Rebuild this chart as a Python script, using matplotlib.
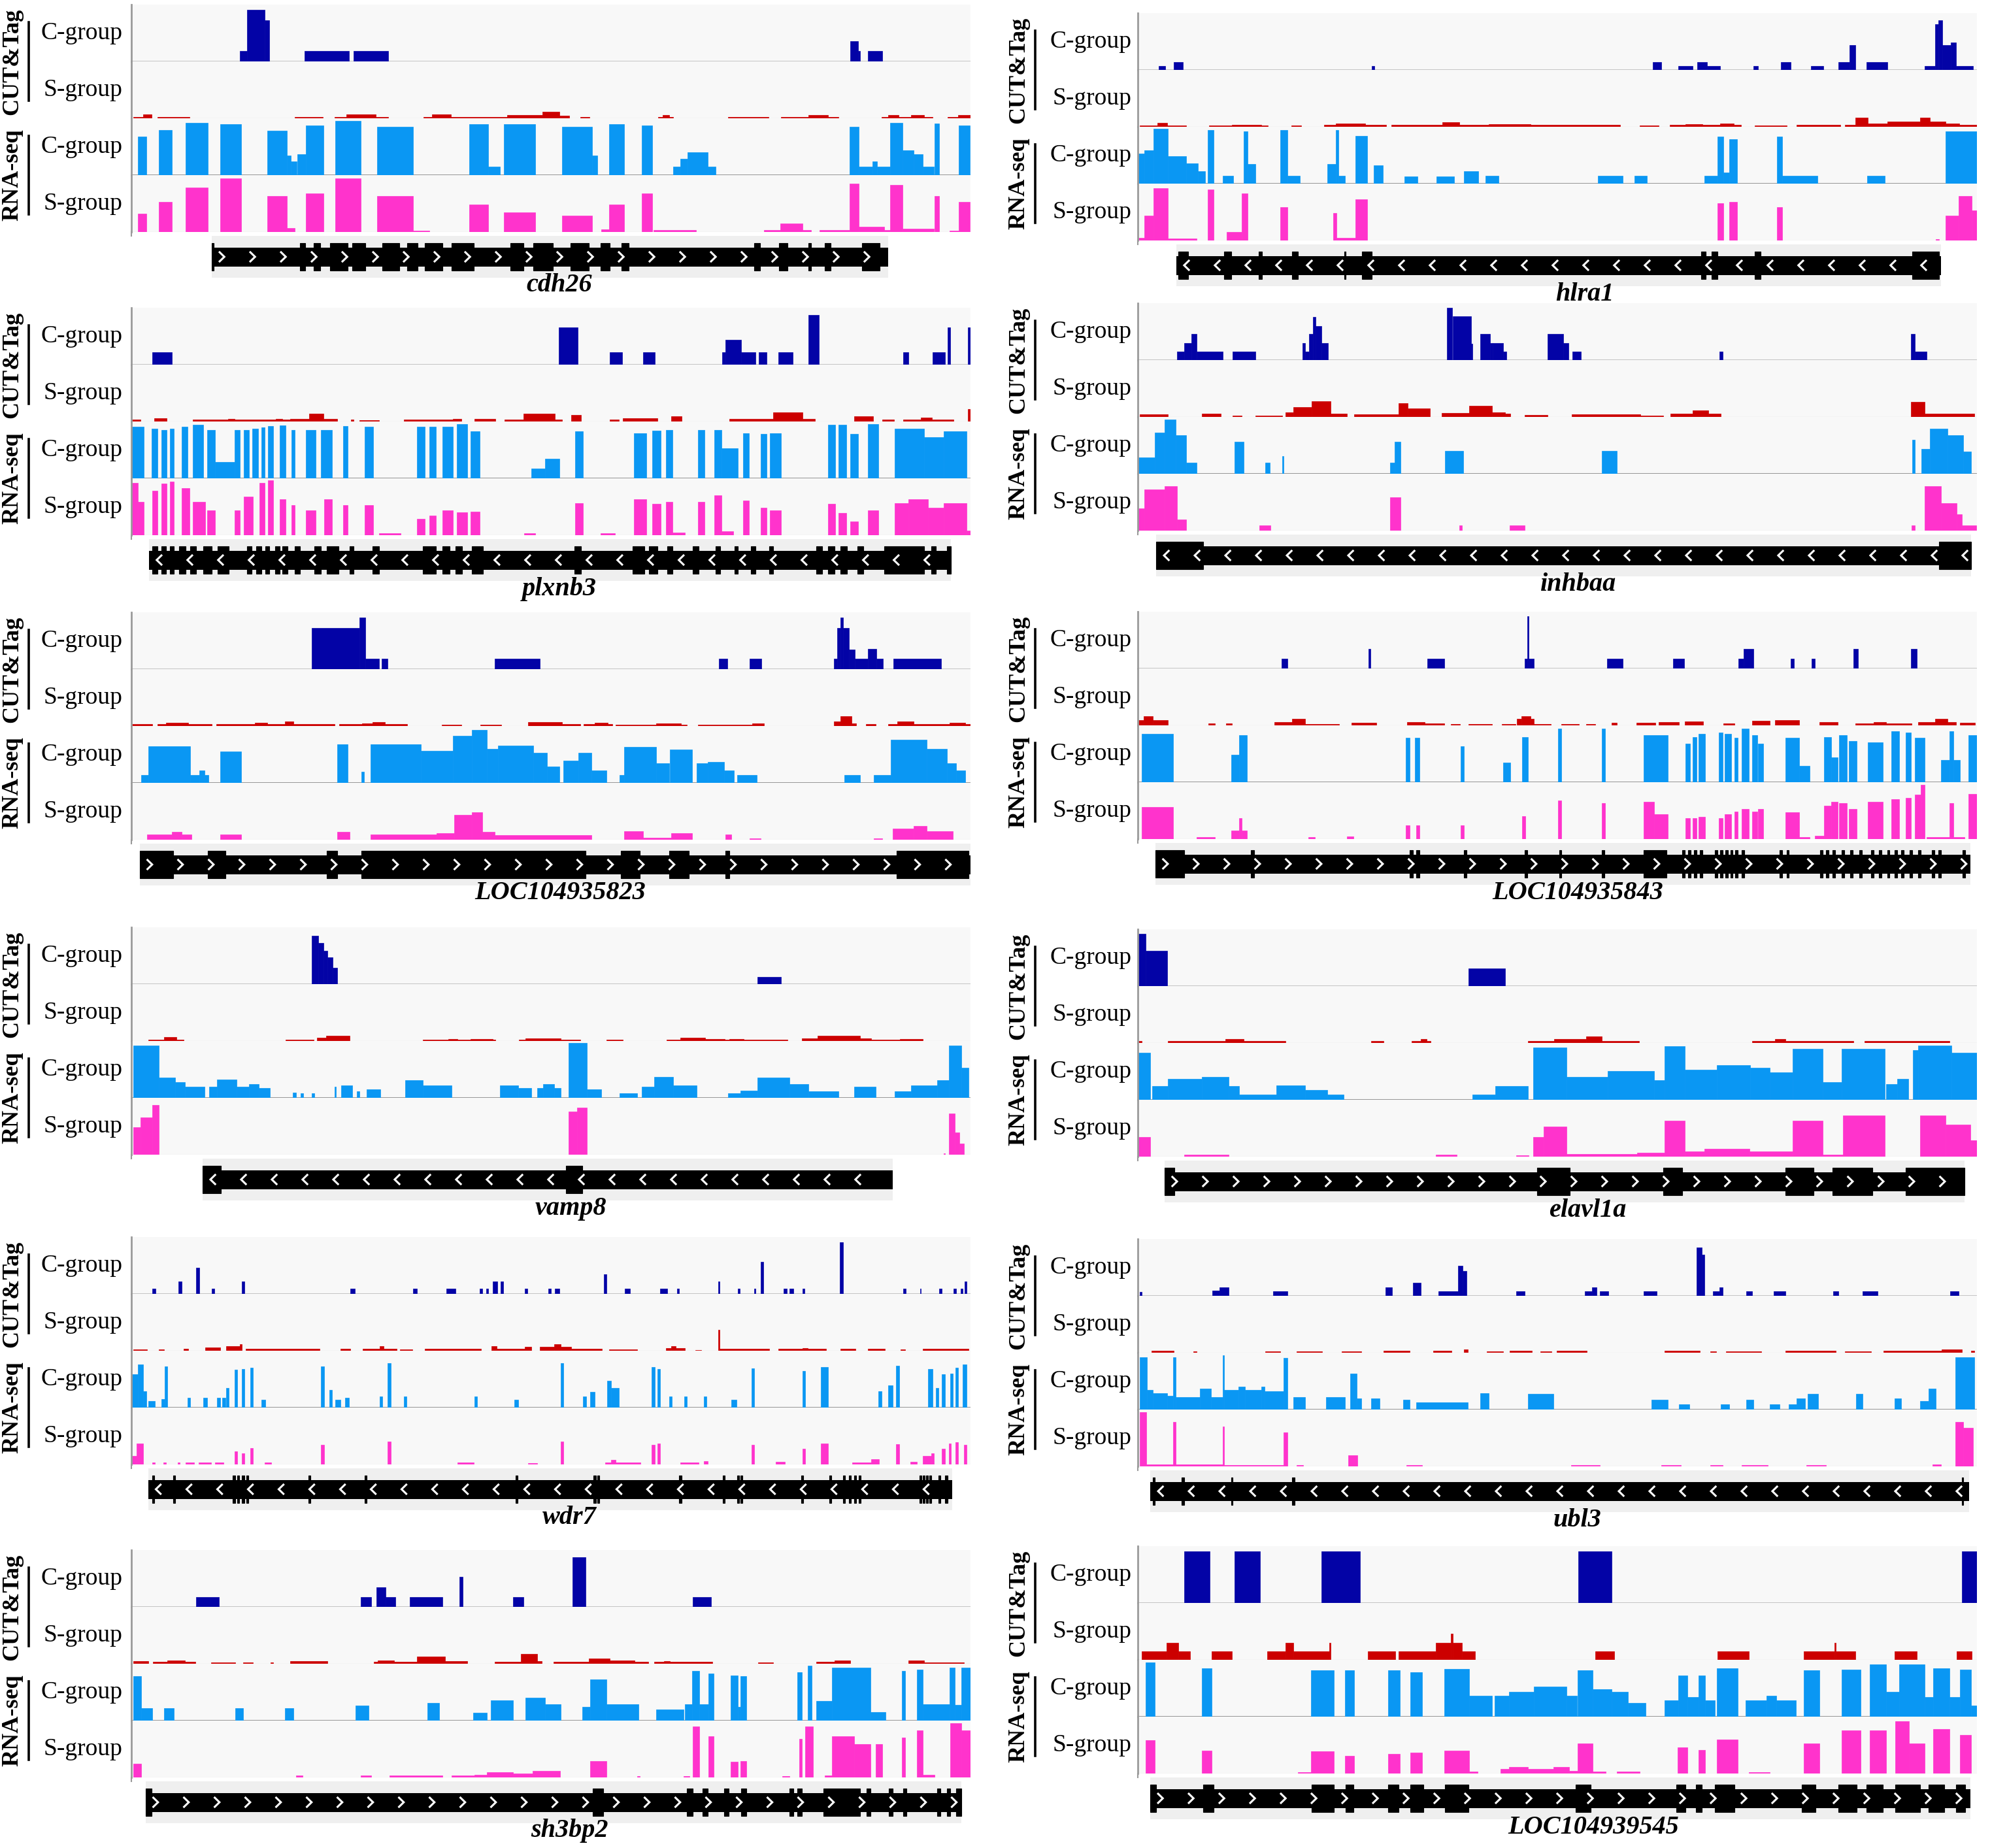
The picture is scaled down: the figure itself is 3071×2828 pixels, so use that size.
import matplotlib.pyplot as plt
import numpy as np
from matplotlib.lines import Line2D

# ---------------- data: (start %, end %, relative height) ----------------
# cdh26
cdh26_cut_c = [(12.9, 13.8, 0.19), (13.8, 15.9, 0.94), (15.9, 16.4, 0.75), (20.6, 25.9, 0.19), (26.5, 30.6, 0.19),
               (85.7, 86.6, 0.37), (86.6, 86.8, 0.19), (87.8, 89.5, 0.19)]
cdh26_cut_s = [(0.2, 1.4, 0.02), (1.4, 2.4, 0.07), (3.1, 6.9, 0.02), (19.5, 22.8, 0.02), (24.2, 25.6, 0.02),
               (25.6, 29.1, 0.07), (29.1, 30.6, 0.02), (34.8, 35.8, 0.02), (35.8, 38.1, 0.07), (38.1, 44.8, 0.02),
               (44.8, 49.0, 0.06), (49.0, 51.0, 0.12), (51.0, 52.2, 0.05), (53.5, 54.6, 0.02), (62.8, 63.3, 0.02),
               (63.3, 64.1, 0.06), (64.1, 64.6, 0.02), (71.1, 75.9, 0.02), (77.4, 80.7, 0.02), (80.7, 83.0, 0.06),
               (83.0, 84.3, 0.02), (89.4, 90.2, 0.02), (90.2, 91.4, 0.06), (91.4, 92.9, 0.02), (92.9, 94.5, 0.06),
               (94.5, 95.5, 0.02), (97.3, 98.5, 0.02), (98.5, 100, 0.06)]
cdh26_rna_c = [(0.8, 1.8, 0.70), (3.3, 4.8, 0.82), (6.5, 9.1, 0.95), (10.6, 13.1, 0.92), (16.2, 18.5, 0.80),
               (18.5, 19.0, 0.35), (19.0, 19.7, 0.25), (19.8, 20.8, 0.38), (20.8, 22.9, 0.90), (24.3, 27.3, 0.98),
               (29.3, 33.6, 0.88), (40.3, 42.5, 0.92), (42.5, 43.9, 0.15), (44.4, 48.1, 0.92), (51.3, 54.9, 0.88),
               (54.9, 55.5, 0.35), (56.9, 58.7, 0.92), (60.8, 62.1, 0.90), (64.6, 65.4, 0.15), (65.4, 66.3, 0.30),
               (66.3, 68.7, 0.42), (68.7, 69.6, 0.15), (85.6, 86.7, 0.88), (86.7, 88.3, 0.15), (88.3, 88.9, 0.25),
               (88.9, 90.4, 0.15), (90.4, 91.9, 0.95), (91.9, 93.2, 0.45), (93.2, 94.3, 0.38), (94.3, 95.6, 0.15),
               (95.7, 96.3, 0.93), (98.6, 99.9, 0.90)]
cdh26_rna_s = [(0.8, 1.8, 0.33), (3.3, 4.8, 0.55), (6.5, 9.1, 0.80), (10.6, 13.1, 0.97), (16.2, 18.5, 0.65),
               (18.5, 19.5, 0.07), (20.8, 22.9, 0.70), (24.3, 27.3, 0.97), (29.3, 33.6, 0.65), (33.6, 35.5, 0.02),
               (40.3, 42.5, 0.50), (44.4, 48.1, 0.35), (51.3, 54.9, 0.30), (56.0, 56.9, 0.05), (56.9, 58.7, 0.50),
               (60.8, 62.1, 0.70), (62.2, 67.3, 0.03), (75.4, 77.3, 0.03), (77.3, 80.0, 0.15), (80.0, 81.0, 0.03),
               (82.0, 85.6, 0.03), (85.6, 86.7, 0.88), (86.7, 89.7, 0.10), (89.7, 90.4, 0.03), (90.4, 91.9, 0.85),
               (91.9, 95.6, 0.06), (95.7, 96.3, 0.65), (97.5, 98.6, 0.02), (98.6, 99.9, 0.55)]
cdh26_exons = [(9.6, 9.8), (20.1, 20.7), (21.7, 22.5), (23.7, 25.8), (26.3, 27.9), (29.9, 31.9), (32.9, 34.1),
               (35.0, 37.1), (38.2, 40.8), (45.2, 46.7), (47.9, 50.2), (52.3, 54.5), (55.9, 57.0), (58.4, 59.3),
               (74.2, 74.9), (77.2, 78.2), (80.7, 81.0), (82.6, 83.3), (87.1, 89.2)]

# hlra1
hlra1_cut_c = [(2.5, 3.3, 0.07), (4.3, 5.4, 0.14), (27.9, 28.2, 0.07), (61.4, 62.4, 0.14), (64.4, 66.1, 0.07),
               (66.7, 67.8, 0.14), (67.8, 69.4, 0.07), (73.4, 73.9, 0.07), (76.6, 77.8, 0.14), (80.2, 81.7, 0.07),
               (83.5, 84.8, 0.14), (84.8, 85.5, 0.45), (86.8, 89.3, 0.14), (93.8, 95.0, 0.07), (95.0, 95.4, 0.83),
               (95.4, 95.9, 0.90), (95.9, 96.9, 0.45), (96.9, 97.5, 0.50), (97.5, 99.5, 0.07)]
hlra1_cut_s = [(0.2, 2.3, 0.02), (2.3, 3.5, 0.07), (3.5, 5.8, 0.02), (8.5, 11.2, 0.02), (11.2, 14.7, 0.04),
               (14.7, 15.5, 0.02), (18.3, 19.5, 0.02), (22.2, 23.6, 0.03), (23.6, 27.1, 0.06), (27.1, 29.6, 0.03),
               (30.2, 36.3, 0.03), (36.3, 38.3, 0.08), (38.3, 41.8, 0.03), (41.8, 46.8, 0.05), (46.8, 57.5, 0.03),
               (59.8, 62.1, 0.02), (63.4, 65.3, 0.03), (65.3, 67.3, 0.05), (67.3, 69.4, 0.03), (69.4, 71.0, 0.06),
               (71.0, 71.9, 0.03), (73.5, 77.3, 0.02), (78.5, 83.7, 0.04), (84.3, 85.5, 0.04), (85.5, 87.0, 0.16),
               (87.0, 89.3, 0.06), (89.3, 93.2, 0.10), (93.2, 94.4, 0.16), (94.4, 96.3, 0.10), (96.3, 97.9, 0.06),
               (97.9, 100, 0.04)]
hlra1_rna_c = [(0.0, 0.8, 0.55), (0.8, 1.9, 0.60), (1.9, 3.6, 1.00), (3.6, 5.8, 0.50), (5.8, 7.2, 0.37),
               (7.2, 8.0, 0.22), (8.3, 9.0, 0.97), (10.1, 11.4, 0.14), (12.6, 13.1, 0.95), (13.1, 14.0, 0.35),
               (17.0, 17.8, 0.97), (17.8, 19.3, 0.14), (22.6, 23.6, 0.35), (23.6, 23.9, 0.97), (23.9, 24.7, 0.14),
               (25.9, 27.3, 0.87), (28.1, 29.2, 0.33), (31.8, 33.3, 0.13), (35.6, 37.7, 0.13), (38.9, 40.6, 0.22),
               (41.4, 43.0, 0.14), (54.8, 57.8, 0.14), (59.2, 60.7, 0.14), (67.5, 69.1, 0.14), (69.1, 69.8, 0.85),
               (69.8, 70.5, 0.20), (70.5, 71.4, 0.80), (76.2, 76.8, 0.85), (76.8, 81.0, 0.14), (86.9, 89.0, 0.14),
               (96.3, 100, 0.95)]
hlra1_rna_s = [(0.0, 0.8, 0.05), (0.8, 1.9, 0.45), (1.9, 3.6, 0.95), (3.6, 7.0, 0.04), (8.3, 9.0, 0.92),
               (10.6, 12.4, 0.15), (12.4, 13.1, 0.85), (17.0, 17.8, 0.60), (23.3, 23.7, 0.50), (23.7, 25.9, 0.05),
               (25.9, 27.3, 0.75), (69.1, 69.8, 0.68), (70.5, 71.4, 0.70), (76.2, 76.8, 0.60), (95.1, 95.5, 0.02),
               (96.3, 97.8, 0.45), (97.8, 99.4, 0.80), (99.4, 100, 0.55)]
hlra1_exons = [(4.8, 6.0), (10.3, 11.1), (14.4, 14.8), (18.4, 19.1), (24.6, 24.8), (26.7, 27.9), (67.1, 67.7),
               (68.4, 69.1), (73.5, 74.2), (92.3, 95.5)]

# plxnb3
plxnb3_cut_c = [(2.5, 4.8, 0.22), (50.9, 53.2, 0.67), (57.0, 58.5, 0.22), (61.0, 62.4, 0.22), (70.4, 70.8, 0.22),
                (70.8, 72.7, 0.45), (72.7, 74.4, 0.22), (74.8, 75.7, 0.22), (77.1, 78.8, 0.22), (80.7, 81.9, 0.90),
                (92.0, 92.6, 0.22), (95.5, 97.0, 0.22), (97.3, 97.6, 0.67), (99.7, 100, 0.67)]
plxnb3_cut_s = [(0, 1.1, 0.03), (2.7, 4.2, 0.06), (7.3, 11.5, 0.03), (11.5, 12.3, 0.05), (12.3, 17.2, 0.03),
                (17.2, 18.0, 0.05), (18.0, 18.9, 0.03), (18.9, 21.2, 0.05), (21.2, 22.9, 0.14), (22.9, 24.5, 0.05),
                (26.2, 26.5, 0.03), (27.2, 29.5, 0.02), (32.5, 38.3, 0.03), (38.3, 39.3, 0.05), (40.9, 43.4, 0.05),
                (44.5, 46.7, 0.04), (46.7, 50.5, 0.14), (50.5, 51.3, 0.04), (52.4, 53.6, 0.12), (57.0, 58.1, 0.03),
                (58.6, 62.7, 0.06), (64.3, 65.6, 0.10), (71.3, 76.5, 0.05), (76.5, 80.0, 0.17), (80.0, 81.5, 0.05),
                (86.1, 88.4, 0.10), (89.5, 90.9, 0.03), (92.0, 94.1, 0.03), (94.1, 95.4, 0.07), (95.4, 98.0, 0.03),
                (99.7, 100, 0.22)]
plxnb3_rna_c = [(0, 1.5, 0.93), (2.4, 3.1, 0.90), (3.6, 4.2, 0.88), (4.6, 5.1, 0.90), (6.0, 6.7, 0.93),
                (7.3, 8.6, 0.97), (9.0, 10.0, 0.88), (10.0, 12.3, 0.30), (12.3, 12.9, 0.88), (13.4, 14.0, 0.88),
                (14.4, 15.1, 0.90), (15.5, 15.9, 0.92), (16.3, 16.9, 0.95), (17.7, 18.4, 0.96), (19.1, 19.5, 0.88),
                (20.8, 22.0, 0.88), (22.6, 23.9, 0.88), (25.2, 25.8, 0.95), (27.8, 28.8, 0.93), (34.0, 35.0, 0.93),
                (35.5, 36.3, 0.93), (37.1, 38.3, 0.93), (38.8, 40.0, 0.98), (40.4, 41.5, 0.85), (47.7, 49.3, 0.18),
                (49.3, 51.0, 0.35), (52.9, 53.8, 0.85), (59.9, 61.4, 0.82), (62.1, 63.1, 0.87), (63.7, 64.5, 0.88),
                (67.5, 68.3, 0.88), (69.5, 70.3, 0.88), (70.3, 72.3, 0.55), (72.9, 73.6, 0.82), (75.0, 75.7, 0.80),
                (76.1, 77.4, 0.82), (83.0, 83.9, 0.97), (84.3, 85.2, 0.97), (85.7, 86.6, 0.80), (87.8, 89.0, 0.98),
                (91.0, 94.5, 0.90), (94.5, 96.8, 0.75), (96.8, 99.5, 0.85)]
plxnb3_rna_s = [(0, 0.8, 0.95), (0.8, 1.5, 0.60), (2.5, 3.1, 0.80), (3.6, 4.2, 0.94), (4.6, 5.1, 0.97),
                (6.0, 6.9, 0.85), (7.3, 8.8, 0.60), (9.0, 10.0, 0.45), (12.3, 12.9, 0.45), (13.4, 14.5, 0.70),
                (15.3, 15.9, 0.95), (16.3, 16.9, 1.00), (17.7, 18.4, 0.65), (19.1, 19.5, 0.55), (20.8, 22.0, 0.45),
                (23.0, 23.9, 0.65), (25.2, 25.8, 0.55), (27.8, 28.8, 0.55), (29.5, 32.1, 0.04), (34.0, 35.0, 0.30),
                (35.5, 36.3, 0.35), (37.1, 38.3, 0.45), (38.8, 40.0, 0.42), (40.4, 41.5, 0.43), (46.8, 48.1, 0.03),
                (52.9, 53.8, 0.58), (55.9, 57.6, 0.04), (59.9, 61.4, 0.65), (62.1, 63.1, 0.57), (63.7, 64.5, 0.60),
                (64.5, 66.0, 0.05), (67.5, 68.3, 0.60), (69.5, 70.3, 0.72), (70.3, 71.7, 0.07), (72.9, 73.6, 0.63),
                (75.0, 75.7, 0.50), (76.1, 77.4, 0.45), (83.0, 83.9, 0.57), (84.3, 85.2, 0.40), (85.7, 86.6, 0.25),
                (87.8, 89.0, 0.45), (91.0, 92.6, 0.58), (92.6, 94.9, 0.65), (94.9, 96.8, 0.50), (96.8, 99.5, 0.58),
                (99.5, 100, 0.08)]
plxnb3_exons = [(2.5, 3.1), (3.6, 4.1), (4.6, 5.1), (5.7, 6.5), (7.0, 7.7), (8.6, 9.6), (10.3, 11.6), (13.8, 14.3),
                (14.9, 15.5), (16.0, 16.4), (17.1, 17.7), (18.0, 18.6), (19.5, 20.1), (21.8, 22.6), (23.3, 24.7),
                (26.0, 26.5), (28.7, 29.5), (34.7, 36.3), (37.1, 37.9), (38.6, 39.4), (40.6, 41.9), (52.8, 53.6),
                (59.7, 61.1), (61.7, 62.7), (63.9, 64.5), (66.9, 67.6), (69.6, 70.2), (71.9, 72.3), (73.8, 74.4),
                (76.0, 76.5), (81.6, 82.3), (83.0, 83.8), (84.5, 85.3), (86.5, 87.2), (89.7, 94.5), (95.3, 95.9),
                (97.2, 97.7)]

# inhbaa
inhbaa_cut_c = [(4.7, 5.5, 0.15), (5.5, 6.4, 0.31), (6.4, 7.0, 0.47), (7.0, 10.1, 0.15), (11.3, 14.0, 0.15),
                (19.6, 19.9, 0.31), (19.9, 20.4, 0.15), (20.4, 20.9, 0.47), (20.9, 21.2, 0.78), (21.2, 21.9, 0.62),
                (21.9, 22.7, 0.31), (36.8, 37.5, 0.95), (37.5, 39.7, 0.79), (39.7, 39.9, 0.30), (40.8, 42.0, 0.47),
                (42.0, 42.3, 0.31), (42.3, 43.5, 0.31), (43.5, 43.9, 0.15), (48.8, 50.7, 0.47), (50.7, 51.3, 0.31),
                (51.8, 52.8, 0.15), (69.3, 69.7, 0.15), (92.1, 92.6, 0.47), (92.6, 94.0, 0.15)]
inhbaa_cut_s = [(0.2, 3.6, 0.05), (7.6, 9.9, 0.06), (11.3, 12.4, 0.02), (14.0, 17.2, 0.02), (17.6, 18.5, 0.08),
                (18.5, 20.7, 0.18), (20.7, 23.0, 0.28), (23.0, 24.9, 0.06), (25.8, 31.1, 0.05), (31.1, 32.2, 0.25),
                (32.2, 34.8, 0.15), (36.2, 39.5, 0.07), (39.5, 42.2, 0.20), (42.2, 43.8, 0.08), (43.8, 44.4, 0.06),
                (46.1, 48.8, 0.03), (51.7, 59.9, 0.05), (59.9, 62.6, 0.02), (63.5, 66.1, 0.06), (66.1, 68.0, 0.12),
                (68.0, 69.5, 0.06), (92.1, 93.8, 0.27), (93.8, 99.7, 0.06)]
inhbaa_rna_c = [(0, 2.0, 0.30), (2.0, 3.2, 0.75), (3.2, 4.5, 0.98), (4.5, 5.8, 0.70), (5.8, 7.0, 0.20),
                (11.5, 12.6, 0.58), (15.2, 15.7, 0.20), (17.2, 17.4, 0.32), (30.1, 30.6, 0.20), (30.6, 31.3, 0.58),
                (36.6, 38.8, 0.42), (55.3, 57.1, 0.42), (92.3, 92.6, 0.62), (93.4, 94.4, 0.45), (94.4, 96.5, 0.82),
                (96.5, 98.4, 0.70), (98.4, 99.3, 0.40)]
inhbaa_rna_s = [(0, 0.8, 0.40), (0.8, 3.2, 0.75), (3.2, 4.7, 0.80), (4.7, 5.8, 0.20), (14.5, 15.8, 0.10),
                (30.1, 31.3, 0.60), (38.3, 38.6, 0.10), (44.3, 46.1, 0.10), (92.2, 92.6, 0.10), (93.8, 95.7, 0.80),
                (95.7, 97.6, 0.50), (97.6, 98.2, 0.30), (98.2, 99.9, 0.10)]
inhbaa_exons = [(2.2, 7.8), (95.5, 99.3)]

# LOC104935823
loc823_cut_c = [(21.5, 27.2, 0.74), (27.2, 27.9, 0.94), (27.9, 29.5, 0.19), (29.8, 30.5, 0.19), (43.3, 48.7, 0.19),
                (70.0, 71.0, 0.19), (73.7, 75.1, 0.19), (83.7, 84.1, 0.19), (84.1, 84.5, 0.74), (84.5, 84.8, 0.93),
                (84.8, 85.5, 0.74), (85.5, 86.2, 0.35), (86.2, 87.8, 0.19), (87.8, 88.8, 0.37), (88.8, 89.6, 0.19),
                (90.8, 96.5, 0.19)]
loc823_cut_s = [(0, 2.5, 0.03), (3.1, 4.1, 0.03), (4.1, 6.8, 0.06), (6.8, 9.6, 0.03), (10.1, 14.7, 0.03),
                (14.7, 16.2, 0.06), (16.2, 18.3, 0.04), (18.3, 19.3, 0.08), (19.3, 24.2, 0.03), (24.8, 27.5, 0.03),
                (27.5, 28.7, 0.05), (28.7, 30.2, 0.07), (30.2, 32.9, 0.03), (37.0, 39.3, 0.02), (41.6, 44.1, 0.02),
                (47.3, 51.3, 0.07), (51.3, 53.5, 0.03), (53.9, 55.2, 0.03), (55.2, 56.8, 0.06), (56.8, 57.3, 0.03),
                (57.7, 62.5, 0.02), (62.5, 65.5, 0.05), (65.5, 66.2, 0.02), (67.5, 74.0, 0.02), (74.0, 75.4, 0.05),
                (83.7, 84.5, 0.08), (84.5, 85.8, 0.18), (85.8, 86.4, 0.05), (87.5, 88.7, 0.04), (90.2, 91.3, 0.04),
                (91.3, 93.2, 0.08), (93.2, 97.5, 0.04), (97.5, 99.4, 0.06), (99.4, 100, 0.04)]
loc823_rna_c = [(1.2, 2.0, 0.14), (2.0, 7.0, 0.66), (7.0, 8.1, 0.14), (8.1, 8.7, 0.23), (8.7, 9.2, 0.14),
                (10.6, 13.1, 0.57), (24.5, 25.8, 0.70), (27.4, 27.7, 0.20), (28.5, 34.5, 0.70), (34.5, 38.3, 0.58),
                (38.3, 40.6, 0.85), (40.6, 42.4, 0.96), (42.4, 43.7, 0.62), (43.7, 47.9, 0.68), (47.9, 49.5, 0.55),
                (49.5, 51.0, 0.30), (51.5, 53.3, 0.40), (53.3, 54.8, 0.55), (54.8, 56.6, 0.22), (58.2, 58.7, 0.14),
                (58.7, 62.5, 0.65), (62.5, 64.1, 0.35), (64.2, 66.8, 0.60), (67.4, 68.7, 0.35), (68.7, 70.6, 0.38),
                (70.6, 71.8, 0.22), (72.2, 74.5, 0.14), (85.0, 86.8, 0.14), (88.5, 90.5, 0.14), (90.5, 94.8, 0.78),
                (94.8, 97.2, 0.62), (97.2, 98.3, 0.35), (98.3, 99.4, 0.22)]
loc823_rna_s = [(1.9, 4.8, 0.10), (4.8, 6.0, 0.14), (6.0, 7.2, 0.10), (10.6, 13.1, 0.10), (24.5, 26.0, 0.14),
                (28.5, 36.4, 0.10), (36.4, 38.5, 0.12), (38.5, 40.6, 0.45), (40.6, 41.8, 0.50), (41.8, 43.3, 0.14),
                (43.3, 54.8, 0.08), (58.7, 61.0, 0.15), (61.0, 64.3, 0.04), (64.3, 66.8, 0.12), (70.8, 71.5, 0.10),
                (73.7, 75.0, 0.02), (88.5, 89.5, 0.02), (90.7, 93.2, 0.20), (93.2, 94.8, 0.25), (94.8, 97.9, 0.15)]
loc823_exons = [(1.0, 5.0), (9.1, 11.2), (23.3, 24.5), (27.4, 54.1), (58.3, 60.6), (64.1, 66.4), (70.8, 71.3),
                (91.2, 99.8)]

# LOC104935843
loc843_cut_c = [(17.1, 17.8, 0.18), (27.5, 27.7, 0.36), (34.5, 36.5, 0.18), (46.1, 46.4, 0.18), (46.4, 46.6, 0.95),
                (46.6, 47.2, 0.18), (55.9, 57.8, 0.18), (63.8, 65.1, 0.18), (71.6, 72.2, 0.18), (72.2, 73.4, 0.36),
                (77.8, 78.2, 0.18), (80.3, 80.7, 0.18), (85.3, 85.8, 0.36), (92.1, 92.8, 0.36)]
loc843_cut_s = [(0, 0.7, 0.10), (0.7, 1.8, 0.17), (1.8, 3.6, 0.10), (8.4, 9.2, 0.03), (10.5, 11.2, 0.03),
                (16.3, 18.4, 0.06), (18.4, 19.9, 0.12), (19.9, 24.0, 0.02), (25.5, 28.4, 0.05), (32.1, 34.2, 0.06),
                (34.2, 36.5, 0.04), (37.3, 38.4, 0.02), (39.4, 42.2, 0.02), (43.4, 45.0, 0.02), (45.2, 45.7, 0.12),
                (45.7, 46.8, 0.17), (46.8, 47.2, 0.12), (47.2, 49.2, 0.02), (50.5, 52.6, 0.02), (53.4, 54.5, 0.02),
                (56.5, 57.1, 0.05), (59.4, 61.7, 0.05), (62.1, 64.5, 0.06), (65.2, 67.4, 0.07), (69.8, 71.1, 0.04),
                (73.2, 75.3, 0.08), (75.9, 78.8, 0.10), (81.2, 83.4, 0.06), (85.5, 87.7, 0.04), (87.7, 89.2, 0.06),
                (89.2, 92.2, 0.04), (93.0, 95.0, 0.06), (95.0, 96.5, 0.12), (96.5, 97.5, 0.06), (98.0, 99.8, 0.05)]
loc843_rna_c = [(0.5, 4.2, 0.88), (11.1, 12.1, 0.50), (12.1, 13.0, 0.85), (31.9, 32.4, 0.80), (33.0, 33.6, 0.80),
                (38.5, 38.9, 0.65), (43.5, 44.4, 0.36), (45.8, 46.5, 0.82), (50.1, 50.5, 0.97), (55.3, 55.7, 0.97),
                (60.3, 63.2, 0.85), (65.3, 65.8, 0.70), (66.1, 66.6, 0.82), (66.8, 67.6, 0.88), (69.2, 69.7, 0.90),
                (69.9, 70.7, 0.88), (71.1, 71.5, 0.80), (72.0, 72.8, 0.97), (73.2, 73.8, 0.85), (73.9, 74.5, 0.70),
                (77.2, 78.8, 0.80), (78.8, 80.1, 0.30), (81.8, 82.6, 0.82), (82.6, 83.4, 0.45), (83.6, 84.5, 0.85),
                (84.7, 85.7, 0.75), (87.0, 88.8, 0.72), (89.8, 90.7, 0.92), (91.5, 92.1, 0.90), (92.6, 93.8, 0.80),
                (95.7, 96.7, 0.40), (96.7, 97.2, 0.92), (97.2, 98.0, 0.40), (99.0, 100, 0.85)]
loc843_rna_s = [(0.5, 4.2, 0.58), (7.0, 9.2, 0.03), (11.1, 12.1, 0.15), (12.1, 12.4, 0.38), (12.4, 13.0, 0.15),
                (20.3, 21.1, 0.04), (24.9, 25.7, 0.05), (31.9, 32.4, 0.25), (33.2, 33.6, 0.25), (38.5, 38.9, 0.25),
                (45.8, 46.2, 0.42), (50.1, 50.5, 0.70), (55.3, 55.7, 0.65), (60.3, 61.5, 0.68), (61.5, 63.2, 0.45),
                (65.3, 65.8, 0.38), (66.1, 66.6, 0.38), (66.8, 67.6, 0.40), (69.2, 69.7, 0.38), (69.9, 70.7, 0.45),
                (71.1, 71.5, 0.50), (72.0, 72.8, 0.55), (73.2, 73.8, 0.50), (73.9, 74.5, 0.55), (77.2, 78.8, 0.48),
                (78.8, 80.1, 0.03), (80.7, 81.8, 0.06), (81.8, 82.6, 0.60), (82.6, 83.4, 0.68), (83.6, 84.5, 0.65),
                (84.7, 85.7, 0.55), (87.0, 88.8, 0.68), (89.8, 90.7, 0.72), (91.5, 92.1, 0.75), (92.6, 93.3, 0.80),
                (93.3, 93.8, 0.98), (94.0, 96.7, 0.03), (96.7, 97.2, 0.65), (97.2, 98.5, 0.03), (99.0, 100, 0.82)]
loc843_exons = [(2.1, 5.5), (13.5, 13.9), (32.4, 32.8), (33.2, 33.6), (38.9, 39.2), (46.1, 46.4), (50.2, 50.5),
                (55.3, 55.6), (60.3, 63.0), (64.9, 65.2), (65.6, 65.9), (66.3, 66.6), (67.0, 67.3), (68.8, 69.1),
                (69.4, 69.7), (70.0, 70.3), (70.6, 70.9), (71.2, 71.5), (72.0, 72.3), (76.5, 76.8), (77.3, 77.6),
                (81.3, 81.6), (82.0, 82.3), (82.8, 83.1), (83.9, 84.2), (84.9, 85.2), (86.0, 86.3), (87.4, 87.7),
                (88.3, 88.6), (89.3, 89.6), (90.2, 90.5), (91.0, 91.3), (92.0, 92.3), (93.0, 93.3), (94.6, 94.9),
                (95.4, 95.7), (98.3, 98.6)]

# vamp8
vamp8_cut_c = [(21.5, 22.3, 0.88), (22.3, 22.9, 0.75), (22.9, 23.4, 0.60), (23.4, 24.0, 0.48), (24.0, 24.5, 0.30),
               (74.6, 77.4, 0.13)]
vamp8_cut_s = [(2.0, 3.9, 0.02), (3.9, 5.4, 0.07), (5.4, 6.2, 0.02), (18.4, 21.7, 0.02), (22.1, 23.2, 0.06),
               (23.2, 26.0, 0.09), (34.7, 37.8, 0.02), (37.8, 38.9, 0.04), (38.9, 40.4, 0.02), (40.4, 43.1, 0.04),
               (43.1, 43.4, 0.02), (46.2, 47.0, 0.02), (47.0, 51.2, 0.05), (51.2, 53.5, 0.02), (56.6, 58.6, 0.02),
               (63.8, 65.4, 0.02), (65.4, 68.4, 0.06), (68.4, 70.7, 0.04), (70.7, 71.3, 0.02), (71.3, 73.0, 0.03),
               (73.0, 78.2, 0.02), (79.9, 81.8, 0.05), (81.8, 86.8, 0.10), (86.8, 88.2, 0.05), (88.2, 91.6, 0.02),
               (91.6, 94.3, 0.04)]
vamp8_rna_c = [(0.2, 3.3, 0.95), (3.3, 5.2, 0.37), (5.2, 6.4, 0.28), (6.4, 8.7, 0.20), (9.3, 10.2, 0.20),
               (10.2, 12.5, 0.33), (12.5, 14.0, 0.20), (14.0, 15.2, 0.25), (15.2, 16.5, 0.18), (19.2, 19.6, 0.10),
               (20.2, 20.5, 0.08), (21.5, 21.8, 0.08), (24.2, 24.4, 0.20), (25.0, 26.3, 0.22), (26.9, 27.2, 0.12),
               (28.0, 29.7, 0.15), (32.6, 34.7, 0.32), (34.7, 38.2, 0.22), (43.9, 46.1, 0.23), (46.1, 47.7, 0.18),
               (48.4, 49.1, 0.18), (49.1, 50.4, 0.25), (50.4, 51.2, 0.18), (52.1, 54.3, 1.00), (54.3, 56.0, 0.15),
               (58.2, 60.3, 0.08), (60.8, 62.3, 0.20), (62.3, 64.6, 0.38), (64.6, 67.4, 0.22), (71.1, 72.6, 0.08),
               (72.6, 74.6, 0.13), (74.6, 78.4, 0.37), (78.4, 80.7, 0.25), (80.7, 84.3, 0.12), (86.1, 88.7, 0.20),
               (91.0, 92.9, 0.12), (92.9, 96.0, 0.23), (96.0, 97.4, 0.32), (97.4, 98.9, 0.95), (98.9, 99.8, 0.55)]
vamp8_rna_s = [(0.2, 1.1, 0.50), (1.1, 2.5, 0.68), (2.5, 3.3, 0.90), (52.1, 53.1, 0.78), (53.1, 54.3, 0.85),
               (96.8, 97.0, 0.02), (97.4, 98.1, 0.75), (98.1, 98.7, 0.40), (98.7, 99.2, 0.20)]
vamp8_exons = [(8.5, 10.7), (51.8, 53.7)]

# elavl1a
elavl1a_cut_c = [(0, 0.9, 0.95), (0.9, 3.5, 0.64), (39.4, 43.8, 0.32)]
elavl1a_cut_s = [(0, 0.5, 0.03), (3.6, 10.4, 0.03), (10.4, 12.6, 0.07), (12.6, 17.6, 0.03), (27.8, 29.3, 0.03),
                 (32.6, 33.7, 0.03), (33.7, 34.4, 0.07), (34.4, 34.9, 0.03), (46.5, 49.6, 0.03), (49.6, 53.4, 0.07),
                 (53.4, 55.3, 0.12), (55.3, 59.7, 0.03), (73.2, 75.9, 0.03), (75.9, 77.2, 0.07), (77.2, 85.3, 0.03),
                 (86.6, 96.7, 0.03)]
elavl1a_rna_c = [(0, 1.5, 0.85), (1.7, 3.6, 0.25), (3.6, 7.6, 0.38), (7.6, 10.8, 0.42), (10.8, 12.1, 0.25),
                 (12.1, 16.5, 0.10), (16.5, 19.9, 0.26), (19.9, 22.6, 0.18), (22.6, 24.5, 0.10), (39.9, 42.6, 0.10),
                 (42.6, 46.5, 0.25), (47.1, 51.1, 0.95), (51.1, 56.0, 0.42), (56.0, 61.5, 0.52), (61.5, 62.8, 0.35),
                 (62.8, 65.2, 0.97), (65.2, 69.0, 0.55), (69.0, 73.0, 0.63), (73.0, 75.3, 0.58), (75.3, 78.0, 0.50),
                 (78.0, 81.6, 0.92), (81.6, 83.9, 0.32), (83.9, 89.0, 0.92), (89.2, 90.5, 0.28), (90.5, 91.8, 0.38),
                 (92.4, 93.0, 0.90), (93.0, 97.0, 0.98), (97.0, 100, 0.85)]
elavl1a_rna_s = [(0, 1.5, 0.35), (5.5, 10.8, 0.03), (35.5, 38.0, 0.03), (45.1, 46.6, 0.02), (47.1, 48.4, 0.35),
                 (48.4, 51.1, 0.55), (51.1, 59.5, 0.05), (59.5, 62.8, 0.07), (62.8, 65.2, 0.65), (65.2, 67.5, 0.10),
                 (67.5, 72.9, 0.14), (72.9, 78.0, 0.10), (78.0, 81.6, 0.65), (81.6, 84.0, 0.03), (84.0, 89.0, 0.75),
                 (93.2, 96.3, 0.75), (96.3, 99.2, 0.58), (99.2, 100, 0.30)]
elavl1a_exons = [(3.2, 4.4), (47.6, 51.5), (62.6, 64.9), (77.2, 80.5), (82.8, 87.5), (91.5, 98.5)]

# wdr7
wdr7_cut_c = [(2.5, 2.9, 0.10), (5.6, 6.0, 0.22), (7.7, 8.1, 0.47), (9.6, 9.9, 0.10), (13.2, 13.5, 0.22),
              (26.1, 26.6, 0.10), (33.6, 34.0, 0.10), (37.5, 38.6, 0.10), (41.5, 41.8, 0.10), (42.3, 42.5, 0.10),
              (43.1, 43.6, 0.22), (44.0, 44.3, 0.22), (46.9, 47.2, 0.10), (49.7, 50.0, 0.10), (50.5, 51.0, 0.10),
              (56.3, 56.6, 0.35), (58.8, 59.4, 0.10), (63.0, 63.9, 0.10), (65.0, 65.3, 0.10), (69.9, 70.1, 0.22),
              (72.3, 72.5, 0.10), (74.2, 74.4, 0.10), (75.0, 75.3, 0.58), (77.7, 78.1, 0.10), (78.4, 78.9, 0.10),
              (80.0, 80.2, 0.10), (84.4, 84.8, 0.93), (92.0, 92.3, 0.10), (94.0, 94.1, 0.10), (96.3, 96.6, 0.10),
              (98.0, 98.3, 0.10), (98.8, 99.1, 0.10), (99.3, 99.5, 0.22)]
wdr7_cut_s = [(0.2, 1.9, 0.02), (3.3, 3.9, 0.02), (6.2, 6.8, 0.04), (8.8, 10.6, 0.06), (11.3, 12.9, 0.08),
              (12.9, 13.2, 0.12), (13.6, 22.4, 0.03), (24.9, 26.1, 0.03), (27.6, 29.6, 0.04), (29.6, 30.1, 0.08),
              (30.1, 31.6, 0.04), (32.0, 33.5, 0.02), (35.0, 41.7, 0.04), (42.9, 43.5, 0.08), (43.5, 46.9, 0.04),
              (46.9, 47.7, 0.07), (48.7, 50.4, 0.07), (50.4, 51.2, 0.12), (51.2, 52.4, 0.07), (52.4, 56.1, 0.04),
              (56.9, 60.3, 0.02), (63.7, 64.3, 0.05), (64.3, 64.9, 0.08), (64.9, 66.0, 0.05), (67.2, 67.9, 0.01),
              (69.9, 70.1, 0.38), (70.1, 76.0, 0.03), (77.1, 80.0, 0.03), (80.0, 80.6, 0.05), (80.6, 82.8, 0.03),
              (84.5, 86.3, 0.03), (87.8, 89.8, 0.03), (91.7, 92.2, 0.02), (94.3, 99.8, 0.04)]
wdr7_rna_c = [(0.1, 0.8, 0.60), (0.8, 1.4, 0.78), (1.4, 1.8, 0.30), (2.0, 2.8, 0.12), (3.6, 4.0, 0.15),
              (4.0, 4.3, 0.75), (6.7, 7.0, 0.18), (8.6, 9.0, 0.18), (10.2, 10.6, 0.18), (10.8, 11.2, 0.18),
              (11.3, 11.6, 0.35), (12.3, 12.6, 0.69), (13.2, 13.5, 0.70), (14.2, 14.5, 0.72), (15.5, 16.0, 0.14),
              (22.6, 23.0, 0.75), (23.6, 23.9, 0.32), (24.3, 24.9, 0.14), (25.5, 25.9, 0.18), (29.6, 29.9, 0.20),
              (30.5, 30.9, 0.80), (32.5, 32.8, 0.20), (40.9, 41.2, 0.20), (45.6, 46.1, 0.14), (51.2, 51.5, 0.80),
              (53.8, 54.2, 0.20), (54.7, 55.2, 0.28), (56.7, 57.2, 0.48), (57.2, 58.1, 0.35), (62.0, 62.4, 0.73),
              (62.7, 63.0, 0.70), (64.1, 64.4, 0.20), (65.9, 66.2, 0.20), (68.2, 68.5, 0.20), (71.5, 72.1, 0.14),
              (73.9, 74.2, 0.71), (80.0, 80.3, 0.66), (82.2, 83.0, 0.73), (89.0, 89.4, 0.30), (90.2, 90.7, 0.40),
              (91.1, 91.5, 0.76), (94.9, 95.5, 0.70), (95.9, 96.2, 0.35), (96.6, 97.0, 0.60), (97.6, 97.9, 0.62),
              (98.2, 98.5, 0.72), (99.1, 99.5, 0.78)]
wdr7_rna_s = [(0.1, 0.6, 0.15), (0.6, 1.4, 0.38), (2.5, 2.8, 0.03), (3.8, 4.1, 0.03), (5.5, 5.8, 0.03),
              (6.5, 7.5, 0.03), (8.0, 9.5, 0.04), (10.0, 11.0, 0.03), (12.3, 12.6, 0.24), (13.2, 13.5, 0.20),
              (14.2, 14.5, 0.30), (15.9, 16.7, 0.03), (22.6, 23.0, 0.35), (30.5, 30.9, 0.42), (38.9, 40.8, 0.03),
              (47.3, 48.4, 0.02), (51.2, 51.5, 0.42), (56.5, 57.2, 0.04), (57.2, 57.7, 0.08), (57.7, 60.7, 0.04),
              (62.0, 62.4, 0.35), (62.7, 63.0, 0.38), (65.4, 67.6, 0.03), (68.2, 68.7, 0.06), (73.9, 74.2, 0.35),
              (76.8, 77.9, 0.05), (80.0, 80.3, 0.28), (82.2, 83.0, 0.38), (85.9, 88.2, 0.04), (88.2, 89.1, 0.10),
              (91.1, 91.5, 0.37), (92.8, 93.6, 0.05), (94.3, 95.3, 0.15), (95.3, 95.6, 0.20), (96.6, 97.0, 0.28),
              (97.4, 97.7, 0.38), (98.2, 98.5, 0.40), (99.2, 99.5, 0.35)]
wdr7_exons = [(2.5, 2.75), (5.0, 5.25), (12.1, 12.35), (12.6, 12.85), (13.2, 13.45), (13.7, 13.95), (21.1, 21.35),
              (27.8, 28.05), (45.8, 46.05), (55.1, 55.35), (55.5, 55.75), (65.3, 65.55), (70.5, 70.75),
              (72.2, 72.45), (72.6, 72.85), (79.8, 80.05), (83.2, 83.45), (84.8, 85.05), (85.5, 85.75),
              (86.1, 86.35), (86.7, 86.95), (93.9, 94.15), (94.3, 94.55), (94.7, 94.95), (95.1, 95.35),
              (96.2, 96.45), (97.0, 97.25)]

# ubl3
ubl3_cut_c = [(0.2, 0.5, 0.07), (8.9, 9.7, 0.10), (9.7, 10.8, 0.15), (16.1, 17.8, 0.08), (29.5, 30.3, 0.15),
              (32.8, 33.7, 0.24), (35.8, 38.2, 0.08), (38.2, 38.7, 0.55), (38.7, 39.2, 0.45), (45.1, 46.1, 0.08),
              (53.3, 54.1, 0.08), (54.1, 54.7, 0.15), (55.1, 56.1, 0.08), (60.3, 61.8, 0.08), (66.6, 67.2, 0.88),
              (67.2, 67.5, 0.75), (68.5, 69.3, 0.08), (69.3, 69.7, 0.15), (72.5, 73.2, 0.08), (75.8, 77.2, 0.08),
              (82.9, 83.5, 0.08), (86.4, 88.2, 0.08), (96.8, 97.8, 0.08)]
ubl3_cut_s = [(1.6, 4.3, 0.03), (6.6, 7.0, 0.02), (15.2, 17.0, 0.02), (18.9, 22.0, 0.02), (24.3, 26.6, 0.02),
              (29.3, 32.4, 0.03), (35.2, 37.4, 0.03), (38.9, 39.3, 0.06), (41.6, 43.5, 0.02), (44.3, 47.0, 0.04),
              (48.0, 49.3, 0.02), (49.9, 53.5, 0.03), (62.8, 67.0, 0.03), (68.2, 68.9, 0.02), (70.1, 74.3, 0.02),
              (77.2, 83.2, 0.03), (84.3, 87.4, 0.02), (88.9, 95.8, 0.04), (95.8, 98.2, 0.06), (99.3, 99.7, 0.04)]
ubl3_rna_c = [(0.2, 1.1, 0.95), (1.1, 1.8, 0.35), (1.8, 3.5, 0.30), (3.5, 4.2, 0.25), (4.2, 4.5, 0.95),
              (4.5, 7.4, 0.22), (7.4, 8.7, 0.38), (8.7, 10.1, 0.22), (10.1, 10.3, 0.98), (10.3, 12.0, 0.35),
              (12.0, 12.8, 0.42), (12.8, 14.7, 0.35), (14.7, 15.1, 0.42), (15.1, 17.4, 0.33), (17.4, 17.8, 0.93),
              (18.5, 19.9, 0.22), (22.4, 24.7, 0.22), (25.3, 26.1, 0.65), (26.1, 26.6, 0.20), (27.8, 28.8, 0.20),
              (31.6, 32.4, 0.18), (33.2, 39.3, 0.13), (40.8, 41.8, 0.30), (46.5, 49.5, 0.28), (61.2, 63.2, 0.18),
              (64.5, 65.7, 0.10), (69.5, 70.5, 0.10), (72.5, 73.4, 0.18), (75.3, 76.5, 0.10), (77.6, 78.5, 0.10),
              (78.5, 79.5, 0.20), (79.8, 81.1, 0.28), (85.6, 86.4, 0.28), (90.2, 91.0, 0.20), (93.2, 94.2, 0.15),
              (94.2, 95.1, 0.38), (97.4, 99.7, 0.95)]
ubl3_rna_s = [(0.2, 1.0, 0.98), (1.0, 4.2, 0.03), (4.2, 4.5, 0.80), (4.5, 10.1, 0.03), (10.1, 10.3, 0.72),
              (10.3, 17.4, 0.02), (17.4, 17.8, 0.62), (18.9, 19.7, 0.02), (25.1, 26.2, 0.20), (32.0, 33.9, 0.02),
              (51.6, 55.1, 0.02), (62.4, 64.7, 0.02), (68.2, 69.7, 0.02), (72.0, 75.1, 0.02), (79.7, 82.0, 0.02),
              (94.7, 95.7, 0.03), (97.4, 98.4, 0.80), (98.4, 99.5, 0.70)]
ubl3_exons = [(1.8, 2.0), (5.2, 5.5), (11.1, 11.3), (18.4, 18.7), (98.2, 98.4)]

# sh3bp2
sh3bp2_cut_c = [(7.7, 10.4, 0.18), (27.3, 28.6, 0.18), (29.2, 30.3, 0.35), (30.3, 31.5, 0.18), (33.2, 37.1, 0.18),
                (39.1, 39.5, 0.54), (45.5, 46.7, 0.18), (52.6, 54.1, 0.90), (66.9, 69.1, 0.18)]
sh3bp2_cut_s = [(0.2, 2.0, 0.05), (2.6, 4.3, 0.03), (4.3, 6.4, 0.06), (6.4, 7.6, 0.03), (9.5, 12.4, 0.02),
                (13.3, 14.5, 0.02), (16.6, 16.9, 0.02), (18.9, 23.4, 0.05), (28.9, 29.4, 0.03), (29.4, 31.3, 0.06),
                (31.3, 34.0, 0.03), (34.0, 37.4, 0.13), (37.4, 40.0, 0.05), (43.3, 46.4, 0.03), (46.4, 48.4, 0.18),
                (48.4, 48.9, 0.05), (50.3, 54.5, 0.04), (54.5, 57.0, 0.10), (57.0, 60.0, 0.06), (60.0, 61.6, 0.04),
                (62.3, 63.5, 0.03), (63.5, 64.2, 0.05), (64.2, 69.2, 0.03), (74.7, 76.5, 0.02), (81.6, 83.8, 0.03),
                (83.8, 85.7, 0.06), (92.6, 94.5, 0.06), (94.5, 99.2, 0.02)]
sh3bp2_rna_c = [(0.2, 1.2, 0.80), (1.2, 2.5, 0.23), (3.9, 5.1, 0.23), (12.4, 13.3, 0.23), (18.3, 19.3, 0.23),
                (26.7, 28.3, 0.27), (35.3, 36.7, 0.32), (40.7, 42.4, 0.14), (42.8, 45.5, 0.37), (47.0, 49.3, 0.42),
                (49.3, 51.2, 0.30), (53.7, 54.7, 0.25), (54.7, 56.6, 0.75), (56.6, 60.4, 0.30), (62.5, 65.8, 0.20),
                (66.0, 66.8, 0.30), (66.8, 67.7, 0.90), (67.7, 68.8, 0.30), (68.8, 69.4, 0.85), (71.4, 72.3, 0.82),
                (72.3, 72.6, 0.25), (72.6, 73.3, 0.80), (79.4, 79.9, 0.88), (80.6, 81.1, 1.00), (81.6, 83.5, 0.35),
                (83.5, 88.1, 0.96), (88.1, 89.9, 0.15), (91.8, 92.2, 0.90), (93.6, 94.3, 0.92), (94.3, 97.5, 0.30),
                (97.5, 98.1, 0.96), (98.1, 98.9, 0.28), (98.9, 100, 0.96)]
sh3bp2_rna_s = [(0.2, 1.2, 0.25), (19.6, 20.4, 0.03), (27.3, 28.6, 0.03), (30.8, 37.1, 0.03), (38.2, 40.9, 0.03),
                (40.9, 42.4, 0.05), (42.4, 45.5, 0.10), (45.5, 47.8, 0.07), (47.8, 51.1, 0.12), (54.7, 56.6, 0.30),
                (60.3, 60.6, 0.02), (65.8, 66.5, 0.02), (66.9, 67.7, 0.92), (68.8, 69.4, 0.75), (71.4, 72.3, 0.28),
                (72.6, 73.3, 0.30), (77.6, 78.4, 0.02), (79.6, 79.9, 0.70), (80.3, 81.2, 0.92), (82.6, 83.5, 0.03),
                (83.5, 86.1, 0.75), (86.1, 88.1, 0.60), (88.7, 89.5, 0.60), (91.8, 92.2, 0.72), (93.6, 94.3, 0.85),
                (94.3, 95.7, 0.05), (97.6, 98.9, 0.98), (98.9, 100, 0.85)]
sh3bp2_exons = [(1.7, 2.4), (55.0, 56.2), (66.2, 66.9), (68.1, 68.7), (70.6, 71.2), (72.7, 73.3), (78.4, 78.9),
                (79.4, 79.9), (82.5, 86.8), (87.6, 88.1), (90.3, 90.7), (92.0, 92.4), (96.0, 96.4), (97.2, 97.6),
                (98.3, 98.9)]

# LOC104939545
loc545_cut_c = [(5.5, 8.6, 0.93), (11.5, 14.6, 0.93), (21.9, 26.5, 0.93), (52.5, 56.5, 0.93), (98.2, 100, 0.93)]
loc545_cut_s = [(0.5, 3.4, 0.15), (3.4, 4.8, 0.31), (4.8, 6.2, 0.15), (8.8, 11.2, 0.15), (15.4, 17.6, 0.15),
                (17.6, 18.5, 0.31), (18.5, 22.8, 0.15), (22.8, 23.0, 0.31), (27.4, 30.7, 0.15), (31.1, 35.5, 0.15),
                (35.5, 37.3, 0.31), (37.3, 37.5, 0.47), (37.5, 38.6, 0.31), (38.6, 40.2, 0.15), (54.5, 56.8, 0.15),
                (69.1, 72.8, 0.15), (79.4, 83.0, 0.15), (83.0, 83.2, 0.31), (83.2, 85.5, 0.15), (90.2, 92.8, 0.15),
                (97.6, 99.4, 0.15)]
loc545_rna_c = [(0.9, 2.0, 0.98), (7.6, 8.8, 0.88), (20.6, 23.4, 0.84), (24.7, 25.8, 0.84), (29.8, 31.2, 0.84),
                (32.5, 33.9, 0.80), (36.5, 39.5, 0.87), (39.5, 42.2, 0.38), (42.5, 44.2, 0.38), (44.2, 47.2, 0.45),
                (47.2, 51.1, 0.55), (51.1, 52.3, 0.38), (52.4, 54.2, 0.84), (54.2, 56.5, 0.50), (56.5, 58.4, 0.45),
                (58.4, 60.5, 0.25), (62.8, 64.4, 0.30), (64.4, 65.5, 0.75), (65.5, 66.8, 0.35), (66.8, 67.6, 0.75),
                (67.6, 68.8, 0.30), (69.0, 71.5, 0.88), (72.4, 74.9, 0.30), (74.9, 76.1, 0.38), (76.1, 78.4, 0.30),
                (79.4, 81.2, 0.84), (83.9, 86.1, 0.85), (87.2, 89.2, 0.95), (89.2, 90.7, 0.45), (90.7, 93.8, 0.95),
                (93.8, 94.8, 0.35), (94.8, 96.7, 0.88), (96.7, 98.0, 0.35), (98.0, 99.3, 0.85), (99.3, 100, 0.20)]
loc545_rna_s = [(0.9, 2.0, 0.60), (7.6, 8.8, 0.42), (19.1, 20.6, 0.02), (20.6, 23.4, 0.40), (24.7, 25.8, 0.32),
                (29.8, 31.2, 0.35), (32.5, 33.9, 0.38), (36.5, 39.5, 0.42), (39.5, 40.5, 0.03), (43.2, 44.2, 0.08),
                (44.2, 46.5, 0.12), (46.5, 49.5, 0.08), (49.5, 51.4, 0.12), (51.4, 52.4, 0.05), (52.4, 54.2, 0.55),
                (54.2, 55.8, 0.03), (57.1, 59.8, 0.03), (64.3, 65.5, 0.47), (66.8, 67.6, 0.43), (69.0, 71.5, 0.62),
                (72.8, 75.3, 0.02), (79.4, 81.2, 0.55), (83.9, 86.1, 0.78), (87.2, 89.2, 0.78), (90.3, 91.9, 0.95),
                (91.9, 93.8, 0.55), (94.8, 96.7, 0.80), (98.0, 99.3, 0.70)]
loc545_exons = [(1.5, 2.2), (7.8, 9.0), (20.7, 23.4), (24.8, 25.7), (29.8, 31.1), (32.5, 34.0), (36.6, 39.4),
                (52.2, 54.0), (64.2, 65.3), (66.5, 67.2), (68.8, 71.1), (79.1, 80.8), (83.5, 85.7), (86.8, 88.8),
                (90.3, 93.2), (94.2, 96.1), (97.5, 98.6)]

gene_names = ["cdh26", "hlra1", "plxnb3", "inhbaa", "LOC104935823", "LOC104935843",
              "vamp8", "elavl1a", "wdr7", "ubl3", "sh3bp2", "LOC104939545"]
gene_spans = [(9.6, 90.2), (4.6, 95.7), (2.1, 97.7), (2.2, 99.3), (1.0, 100.0), (2.1, 99.2),
              (8.5, 90.7), (3.2, 98.5), (2.0, 97.8), (1.5, 99.1), (1.7, 98.9), (1.5, 99.2)]
gene_strands = [1, -1, -1, -1, 1, 1, -1, 1, -1, -1, 1, 1]

# ---------------- layout (pixels of the 3071 x 2828 canvas) ----------------
W, H = 3071, 2828
TH = 87                      # height of one track
col_x = [(201, 1485), (1741, 3025)]
col_label_x = [187, 1731]
col_title_x = [19, 1559]
col_bar_x = [44, 1584]
row_top = [[7, 471, 937, 1419, 1893, 2372], [20, 464, 936, 1422, 1896, 2366]]
name_x = [51.0, 53.3, 51.0, 52.5, 51.1, 52.4, 52.4, 53.6, 52.2, 52.4, 52.2, 54.3]

C_CUT_C, C_CUT_S = "#0303a6", "#cc0000"
C_RNA_C, C_RNA_S = "#0a97f3", "#ff33cc"
BG = "#f8f8f8"
SERIF = ["Liberation Serif", "DejaVu Serif"]

panels = [
    (cdh26_cut_c, cdh26_cut_s, cdh26_rna_c, cdh26_rna_s, cdh26_exons),
    (hlra1_cut_c, hlra1_cut_s, hlra1_rna_c, hlra1_rna_s, hlra1_exons),
    (plxnb3_cut_c, plxnb3_cut_s, plxnb3_rna_c, plxnb3_rna_s, plxnb3_exons),
    (inhbaa_cut_c, inhbaa_cut_s, inhbaa_rna_c, inhbaa_rna_s, inhbaa_exons),
    (loc823_cut_c, loc823_cut_s, loc823_rna_c, loc823_rna_s, loc823_exons),
    (loc843_cut_c, loc843_cut_s, loc843_rna_c, loc843_rna_s, loc843_exons),
    (vamp8_cut_c, vamp8_cut_s, vamp8_rna_c, vamp8_rna_s, vamp8_exons),
    (elavl1a_cut_c, elavl1a_cut_s, elavl1a_rna_c, elavl1a_rna_s, elavl1a_exons),
    (wdr7_cut_c, wdr7_cut_s, wdr7_rna_c, wdr7_rna_s, wdr7_exons),
    (ubl3_cut_c, ubl3_cut_s, ubl3_rna_c, ubl3_rna_s, ubl3_exons),
    (sh3bp2_cut_c, sh3bp2_cut_s, sh3bp2_rna_c, sh3bp2_rna_s, sh3bp2_exons),
    (loc545_cut_c, loc545_cut_s, loc545_rna_c, loc545_rna_s, loc545_exons),
]

fig = plt.figure(figsize=(W / 100, H / 100), dpi=100)
fig.patch.set_facecolor("white")


def px_axes(x0, y0, w, h):
    return fig.add_axes([x0 / W, 1 - (y0 + h) / H, w / W, h / H])


def draw_blocks(ax, blocks, color):
    s = np.array([b[0] for b in blocks])
    e = np.array([b[1] for b in blocks])
    h = np.array([b[2] for b in blocks])
    ax.bar(s, h, width=e - s, bottom=0, align="edge", color=color,
           edgecolor=color, linewidth=0.5)


def fig_text(x, y, s, **kw):
    fig.text(x / W, 1 - y / H, s, **kw)


def fig_line(x0, y0, x1, y1, **kw):
    fig.add_artist(Line2D([x0 / W, x1 / W], [1 - y0 / H, 1 - y1 / H],
                          transform=fig.transFigure, **kw))


for i, (cut_c, cut_s, rna_c, rna_s, exons) in enumerate(panels):
    col, row = i % 2, i // 2
    x0, x1 = col_x[col]
    top = row_top[col][row]

    tracks = [(cut_c, C_CUT_C, "#c4c4c4", 1.4), (cut_s, C_CUT_S, "#e6e6e6", 1.0),
              (rna_c, C_RNA_C, "#8c8c8c", 2.0), (rna_s, C_RNA_S, "#e6e6e6", 1.0)]
    for k, (blocks, color, base_col, base_lw) in enumerate(tracks):
        ax = px_axes(x0, top + k * TH, x1 - x0, TH)
        ax.set_facecolor(BG)
        ax.set_xlim(0, 100)
        ax.set_ylim(0, 1.03)
        ax.axhline(0, color=base_col, lw=base_lw, zorder=1)
        draw_blocks(ax, blocks, color)
        ax.set_xticks([])
        ax.set_yticks([])
        for side in ["top", "right", "bottom"]:
            ax.spines[side].set_visible(False)
        ax.spines["left"].set_color("#9a9a9a")
        ax.spines["left"].set_linewidth(2.0)
        label = "C-group" if k % 2 == 0 else "S-group"
        fig_text(col_label_x[col], top + k * TH + TH * 0.5, label, ha="right", va="center",
                 fontsize=27, family=SERIF)

    # little stub of the axis line below the last track
    fig_line(x0, top + 4 * TH, x0, top + 4 * TH + 6, color="#9a9a9a", lw=1.5)

    # assay titles and brackets
    for j, title in enumerate(["CUT&Tag", "RNA-seq"]):
        yc = top + TH * (1 + 2 * j)
        fig_text(col_title_x[col], yc, title, rotation=90, ha="center", va="center",
                 fontsize=26, fontweight="bold", family=SERIF)
        fig_line(col_bar_x[col], yc - 60, col_bar_x[col], yc + 60, color="black", lw=2.6)

    # gene model
    gs, ge = gene_spans[i]
    gy = top + 386
    gax = px_axes(x0, gy - 36, x1 - x0, 72)
    gax.set_xlim(0, 100)
    gax.set_ylim(-36, 36)
    gax.axis("off")
    gax.bar(gs, 64, width=ge - gs, bottom=-32, align="edge", color="#efefef", linewidth=0)
    gax.bar(gs, 29, width=ge - gs, bottom=-14.5, align="edge", color="black", linewidth=0)
    ex_s = np.array([e[0] for e in exons])
    ex_e = np.array([e[1] for e in exons])
    gax.bar(ex_s, 42, width=ex_e - ex_s, bottom=-21, align="edge", color="black",
            edgecolor="black", linewidth=0.8)
    step = 3.66
    half_w = 0.28
    d = gene_strands[i]
    for cx in np.arange(gs + 1.2, ge - 0.6, step):
        gax.plot([cx - d * half_w, cx + d * half_w, cx - d * half_w], [7, 0, -7],
                 color="white", lw=2.2, solid_joinstyle="miter")

    fig_text(x0 + name_x[i] / 100 * (x1 - x0), top + 430, gene_names[i], ha="center", va="center",
             fontsize=29, fontweight="bold", fontstyle="italic", family=SERIF)

fig.savefig("out.png", dpi=100, facecolor="white")
